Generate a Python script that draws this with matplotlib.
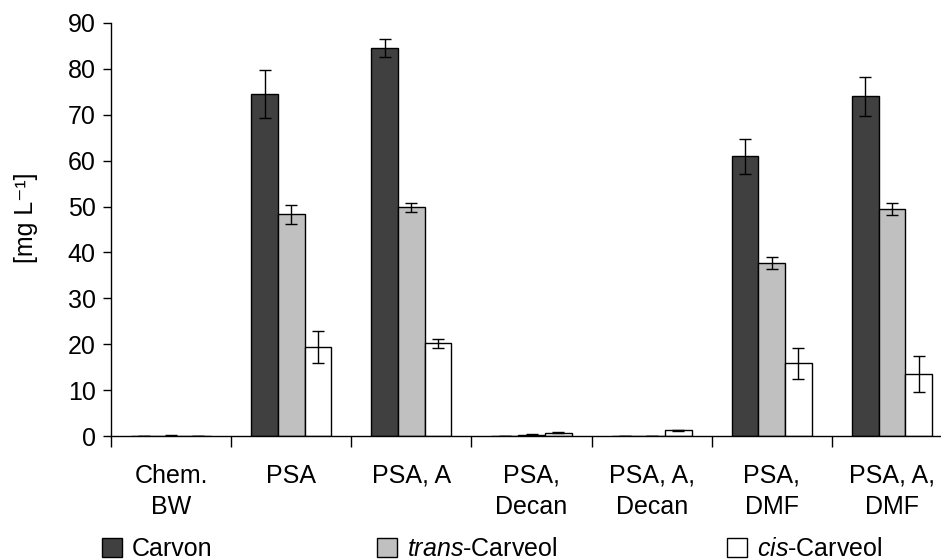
import numpy as np
import matplotlib.pyplot as plt

plt.rcParams['font.family'] = ['Liberation Sans', 'DejaVu Sans']
plt.rcParams['mathtext.fontset'] = 'custom'
plt.rcParams['mathtext.rm'] = 'Liberation Sans'
plt.rcParams['mathtext.it'] = 'Liberation Sans:italic'

# Daten
kategorien = ['Chem.\nBW', 'PSA', 'PSA, A', 'PSA,\nDecan', 'PSA, A,\nDecan', 'PSA,\nDMF', 'PSA, A,\nDMF']
carvon = [0.0, 74.5, 84.5, 0.0, 0.0, 61.0, 74.0]
carvon_err = [0.1, 5.3, 2.0, 0.1, 0.0, 3.8, 4.2]
trans_carveol = [0.0, 48.3, 49.8, 0.3, 0.0, 37.7, 49.5]
trans_err = [0.2, 2.0, 1.0, 0.2, 0.1, 1.3, 1.3]
cis_carveol = [0.0, 19.4, 20.2, 0.7, 1.2, 15.8, 13.5]
cis_err = [0.1, 3.5, 1.0, 0.1, 0.1, 3.3, 4.0]

serien = [
    (carvon, carvon_err, '#404040', 'Carvon'),
    (trans_carveol, trans_err, '#c0c0c0', r'$\it{trans}$-Carveol'),
    (cis_carveol, cis_err, 'white', r'$\it{cis}$-Carveol'),
]

fig = plt.figure(figsize=(9.41, 5.6), dpi=100)
ax = fig.add_axes([111 / 941, 124 / 560, 841 / 941, 413 / 560])

x = np.arange(len(kategorien))
breite = 0.222
handles = []
for i, (werte, fehler, farbe, name) in enumerate(serien):
    b = ax.bar(x + (i - 1) * breite, werte, breite, color=farbe,
               edgecolor='black', linewidth=1.0, label=name)
    ax.errorbar(x + (i - 1) * breite, werte, yerr=fehler, fmt='none',
                ecolor='black', elinewidth=1.0, capsize=4, capthick=1.0)
    handles.append(b)

ax.set_xlim(-0.5, len(kategorien) - 0.5)
ax.set_ylim(0, 90)
ax.set_yticks(np.arange(0, 91, 10))
ax.set_xticks(x)
ax.set_xticklabels(kategorien, fontsize=18, linespacing=1.4)
ax.set_xticks(np.arange(-0.5, len(kategorien), 1), minor=True)
ax.tick_params(axis='x', which='major', length=0, pad=20)
ax.tick_params(axis='x', which='minor', length=8, direction='out', width=1)
ax.tick_params(axis='y', labelsize=18, length=6, direction='out', width=1, pad=5)
ax.set_ylabel('[mg L⁻¹]', fontsize=18)
ax.yaxis.set_label_coords(-0.087, 0.528)

for s in ['top', 'right']:
    ax.spines[s].set_visible(False)
ax.spines['left'].set_linewidth(1.0)
ax.spines['bottom'].set_linewidth(1.0)

# Legende
positionen = [102, 377, 727]
for h, px in zip(handles, positionen):
    fig.legend([h], [h.get_label()], loc='center left',
               bbox_to_anchor=(px / 941, 1 - 549 / 560), frameon=False,
               fontsize=18, handlelength=0.8, handleheight=0.8,
               handletextpad=0.4, borderaxespad=0, borderpad=0)

plt.savefig('out.png', dpi=100)
